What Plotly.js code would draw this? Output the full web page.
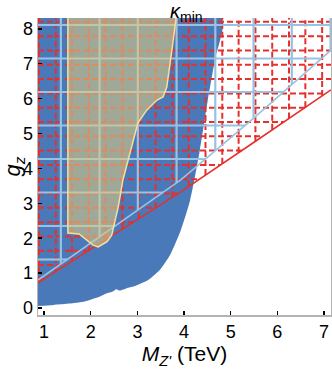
<!DOCTYPE html>
<html>
<head>
<meta charset="utf-8">
<script src="https://cdn.plot.ly/plotly-3.0.1.min.js"></script>
<style>
  html, body { margin: 0; padding: 0; background: #fff; }
  #chart { width: 332px; height: 372px; }
</style>
</head>
<body>
<div id="chart"></div>
<script>
/*
 * ~~~~~~~~~~~~~~~~~~~~~~~~~~~~~~~~~~~~~~~~~~~~~~~~
 * Data
 * ~~~~~~~~~~~~~~~~~~~~~~~~~~~~~~~~~~~~~~~~~~~~~~~~
 */

const X_RANGE = [0.87, 7.15];
const Y_RANGE = [-0.2, 8.31];

// blue excluded region, outline walked clockwise from top-left
const blueX = [0.87, 4.81, 4.66, 4.51, 4.34, 4.13, 3.93, 3.70, 3.48, 3.23, 2.95, 2.80, 2.70, 2.62, 2.55, 2.47, 2.35, 2.20, 2.00, 1.80, 1.50, 1.20, 0.87];
const blueY = [8.31, 8.31, 7.10, 5.96, 4.53, 3.09, 2.23, 1.52, 1.09, 0.80, 0.63, 0.58, 0.53, 0.50, 0.54, 0.47, 0.42, 0.33, 0.24, 0.17, 0.12, 0.09, 0.06];

// kappa_min region
const tanX = [1.51, 1.51, 1.75, 1.90, 2.05, 2.16, 2.35, 2.45, 2.52, 2.59, 2.69, 2.88, 3.01, 3.20, 3.42, 3.55, 3.63, 3.74, 3.83];
const tanY = [8.31, 2.15, 2.12, 1.95, 1.80, 1.75, 1.90, 2.09, 2.52, 2.90, 3.67, 4.61, 5.30, 5.67, 5.96, 6.05, 6.33, 7.39, 8.31];

// red bound (hatched above)
const redX = [0.87, 2.00, 3.93, 5.50, 7.15];
const redY = [0.72, 1.68, 3.33, 4.75, 6.25];

// light blue bound (hatched above)
const lblueX = [0.87, 2.00, 3.93, 5.50, 7.15];
const lblueY = [0.80, 1.86, 3.67, 5.45, 7.39];

// hatch positions
const redGridX = [0.89, 1.25, 1.60, 1.96, 2.32, 2.68, 3.03, 3.39, 3.75, 4.10, 4.46, 4.82, 5.17, 5.53, 5.89, 6.25, 6.60, 6.96];
const redGridY = [8.20, 7.79, 7.38, 6.97, 6.56, 6.15, 5.74, 5.33, 4.92, 4.51, 4.10, 3.69, 3.28, 2.87, 2.46, 2.05, 1.64, 1.23, 0.82];
const lblueGridX = [1.36, 2.19, 3.01, 3.84, 4.67, 5.49, 6.31, 7.14];
const lblueGridY = [8.11, 7.15, 6.19, 5.23, 4.27, 3.31, 2.35, 1.39];

const xTicks = [1, 2, 3, 4, 5, 6, 7];
const yTicks = [0, 1, 2, 3, 4, 5, 6, 7, 8];

/*
 * ~~~~~~~~~~~~~~~~~~~~~~~~~~~~~~~~~~~~~~~~~~~~~~~~
 * Tools
 * ~~~~~~~~~~~~~~~~~~~~~~~~~~~~~~~~~~~~~~~~~~~~~~~~
 */

// y of a polyline at x
const lineAt = (xs, ys, x) => {
  for (let i = 0; i < xs.length - 1; i++) {
    if (x >= xs[i] && x <= xs[i + 1]) {
      const t = (x - xs[i]) / (xs[i + 1] - xs[i]);
      return ys[i] + t * (ys[i + 1] - ys[i]);
    }
  }
  return x < xs[0] ? ys[0] : ys[ys.length - 1];
};

// x of a rising polyline at y (right end if never reached)
const lineInv = (xs, ys, y) => {
  for (let i = 0; i < xs.length - 1; i++) {
    if (y >= ys[i] && y <= ys[i + 1]) {
      const t = (y - ys[i]) / (ys[i + 1] - ys[i]);
      return xs[i] + t * (xs[i + 1] - xs[i]);
    }
  }
  return y < ys[0] ? xs[0] : X_RANGE[1];
};

// grid clipped to the area above a bound
const hatch = (gx, gy, bx, by) => {
  const x = [], y = [];
  gx.forEach(v => {
    x.push(v, v, null);
    y.push(lineAt(bx, by, v), Y_RANGE[1], null);
  });
  gy.forEach(v => {
    x.push(X_RANGE[0], lineInv(bx, by, v), null);
    y.push(v, v, null);
  });
  return {x, y};
};

/*
 * ~~~~~~~~~~~~~~~~~~~~~~~~~~~~~~~~~~~~~~~~~~~~~~~~
 * Plot
 * ~~~~~~~~~~~~~~~~~~~~~~~~~~~~~~~~~~~~~~~~~~~~~~~~
 */

const BLUE = '#4a79ba';
const RED = '#e3312e';
const LBLUE = '#98c2e2';

const redHatch = hatch(redGridX, redGridY, redX, redY);
const lblueHatch = hatch(lblueGridX, lblueGridY, lblueX, lblueY);

const traces = [
  {
    type: 'scatter', mode: 'lines', x: blueX, y: blueY,
    fill: 'toself', fillcolor: BLUE, line: {width: 0, color: BLUE, shape: 'spline', smoothing: 0.6},
    hoverinfo: 'skip',
  },
  {
    type: 'scatter', mode: 'lines', x: redHatch.x, y: redHatch.y,
    line: {color: RED, width: 2, dash: '6px,3px'},
    hoverinfo: 'skip',
  },
  {
    type: 'scatter', mode: 'lines', x: lblueHatch.x, y: lblueHatch.y,
    line: {color: LBLUE, width: 2.2},
    hoverinfo: 'skip',
  },
  {
    type: 'scatter', mode: 'lines', x: redX, y: redY,
    line: {color: RED, width: 1.6},
    hoverinfo: 'skip',
  },
  {
    type: 'scatter', mode: 'lines', x: lblueX, y: lblueY,
    line: {color: LBLUE, width: 1.6},
    hoverinfo: 'skip',
  },
  {
    type: 'scatter', mode: 'lines', x: tanX, y: tanY,
    fill: 'toself', fillcolor: 'rgba(218,200,130,0.6)',
    line: {color: '#f6df98', width: 1.5},
    hoverinfo: 'skip',
  },
];

const layout = {
  width: 332,
  height: 372,
  margin: {l: 38, r: 1, t: 18, b: 57},
  paper_bgcolor: '#fff',
  plot_bgcolor: '#fff',
  showlegend: false,
  font: {family: '"Liberation Sans", Arial, sans-serif', color: '#000', size: 18},
  xaxis: {
    range: X_RANGE,
    tickvals: xTicks,
    ticks: 'inside',
    ticklen: 4,
    tickwidth: 1.5,
    tickcolor: '#000',
    showgrid: false,
    zeroline: false,
    showline: true,
    linecolor: '#b4b4b4',
    linewidth: 1.5,
    tickfont: {size: 18},
    title: {text: '<i>M</i><sub><i>Z\'</i></sub> (TeV)', font: {size: 21}, standoff: 2},
  },
  yaxis: {
    range: Y_RANGE,
    tickvals: yTicks,
    ticks: 'inside',
    ticklen: 4,
    tickwidth: 1.5,
    tickcolor: '#000',
    showgrid: false,
    zeroline: false,
    showline: true,
    mirror: true,
    linecolor: '#b4b4b4',
    linewidth: 1.5,
    tickfont: {size: 18},
    title: {text: '<i>g</i><sub><i>z</i></sub>', font: {size: 22}, standoff: 3},
  },
  annotations: [{
    xref: 'x', yref: 'paper',
    x: 4.05, y: 1,
    yanchor: 'middle', xanchor: 'center',
    yshift: 6,
    showarrow: false,
    text: '<i>κ</i><sub>min</sub>',
    font: {size: 20},
  }],
};

Plotly.newPlot('chart', traces, layout, {displayModeBar: false, staticPlot: true});
</script>
</body>
</html>
